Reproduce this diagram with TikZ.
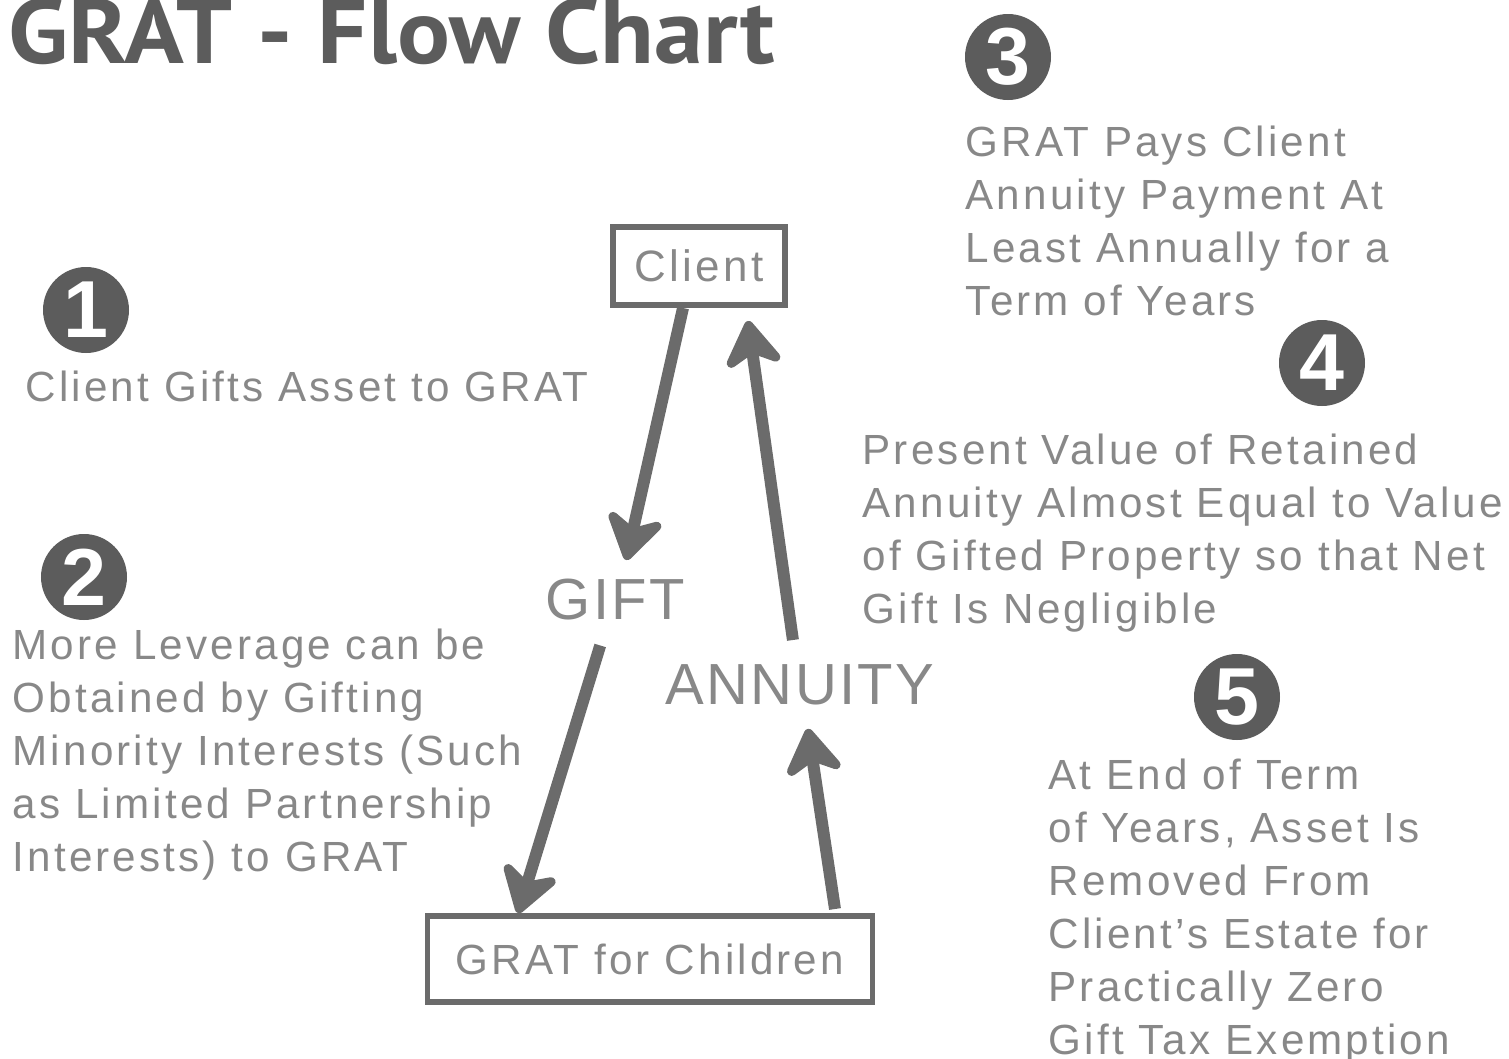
\documentclass[tikz,border=0pt]{standalone}
\usepackage{fontspec}
\setmainfont[LetterSpace=7.5]{Liberation Sans}
\newfontfamily\titlefont[FakeStretch=1.08]{PT Sans}
\newfontfamily\labelfont[LetterSpace=4]{Liberation Sans}
\usetikzlibrary{arrows.meta}

\definecolor{inkgray}{HTML}{6B6B6B}
\definecolor{textgray}{HTML}{888888}
\definecolor{titlegray}{HTML}{5C5C5C}

\begin{document}
\begin{tikzpicture}[
    every node/.style={inner sep=0pt},
    txt/.style={anchor=north west, align=left, text=textgray, font=\fontsize{12}{15.1}\selectfont},
    biglabel/.style={anchor=north west, text=textgray, font=\labelfont\fontsize{16.5}{20}\selectfont},
    box/.style={draw=inkgray, line width=1.7pt, text=textgray},
    num/.style={circle, fill=titlegray, minimum size=8.6mm, text=white, font=\fontsize{23}{23}\bfseries\selectfont},
    flow/.style={draw=inkgray, line width=3.4pt, -{Stealth[length=5.5mm, width=7mm, inset=1.8mm, round]}}
]
    \useasboundingbox (0,0) rectangle (15.09,-10.59);

    % Title
    \node[anchor=base west, text=titlegray, font=\titlefont\bfseries\fontsize{26}{30}\selectfont] (title) at (0.08,-0.63) {GRAT - Flow Chart};

    % Boxes and labels in the middle
    \node[box, minimum width=1.72cm, minimum height=0.78cm, font=\fontsize{12.5}{15}\selectfont] (client) at (6.99,-2.66) {Client};
    \node[box, minimum width=4.45cm, minimum height=0.86cm, font=\fontsize{12}{15}\selectfont] (grat) at (6.50,-9.59) {GRAT for Children};
    \node[biglabel] (gift) at (5.45,-5.78) {GIFT};
    \node[biglabel] (annuity) at (6.65,-6.64) {ANNUITY};

    % Flow of the asset and the annuity
    \draw[flow] ([xshift=-1.6mm]client.south) -- ([xshift=1.1mm,yshift=1.8mm]gift.north);
    \draw[flow] ([xshift=-1.5mm,yshift=-2.5mm]gift.south) -- ([xshift=-13.2mm]grat.north);
    \draw[flow] ([xshift=18.5mm,yshift=0.4mm]grat.north) -- ([xshift=0.8mm,yshift=-2.3mm]annuity.south);
    \draw[flow] ([xshift=-0.7mm,yshift=2.4mm]annuity.north) -- ([xshift=4.9mm,yshift=-1.3mm]client.south);

    % Numbered steps
    \node[num] (n1) at (0.86,-3.10) {1};
    \node[num] (n2) at (0.84,-5.77) {2};
    \node[num] (n3) at (10.08,-0.57) {3};
    \node[num] (n4) at (13.22,-3.63) {4};
    \node[num] (n5) at (12.37,-6.97) {5};

    \node[txt] (t1) at (0.25,-3.70) {Client Gifts Asset to GRAT};
    \node[txt] (t2) at (0.12,-6.28) {More Leverage can be\\Obtained by Gifting\\Minority Interests (Such\\as Limited Partnership\\Interests) to GRAT};
    \node[txt] (t3) at (9.65,-1.25) {GRAT Pays Client\\Annuity Payment At\\Least Annually for a\\Term of Years};
    \node[txt] (t4) at (8.62,-4.33) {Present Value of Retained\\Annuity Almost Equal to Value\\of Gifted Property so that Net\\Gift Is Negligible};
    \node[txt] (t5) at (10.48,-7.58) {At End of Term\\of Years, Asset Is\\Removed From\\Client's Estate for\\Practically Zero\\Gift Tax Exemption};
\end{tikzpicture}
\end{document}
